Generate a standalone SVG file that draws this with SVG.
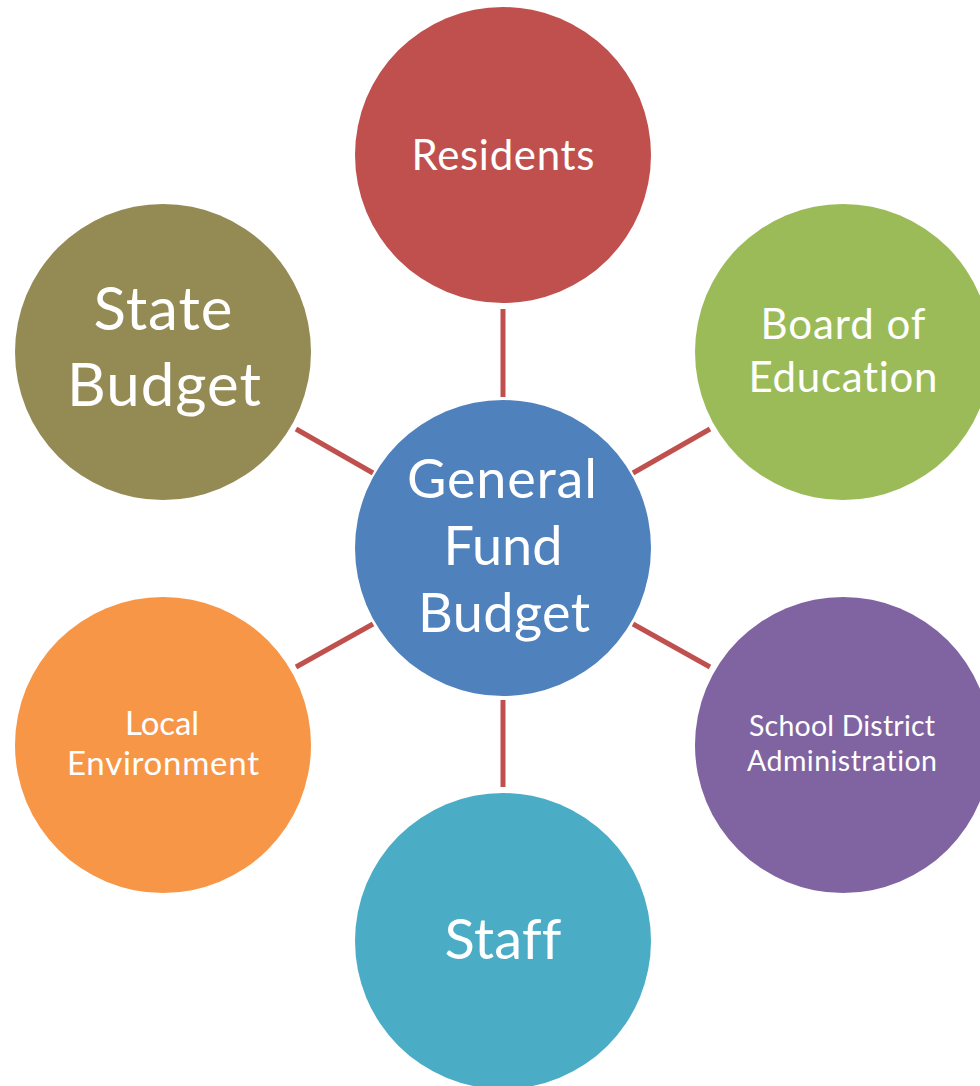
<svg xmlns="http://www.w3.org/2000/svg" width="980" height="1086" viewBox="0 0 980 1086">
  <style>
    .lbl { font-family: Lato, "Open Sans", "Liberation Sans", sans-serif; fill: #FFFFFF; text-anchor: middle; font-variant-ligatures: none; font-feature-settings: "liga" 0, "clig" 0, "dlig" 0; }
    .conn { stroke: #C0504D; stroke-width: 5; fill: none; }
  </style>
  <rect x="0" y="0" width="980" height="1086" fill="#FFFFFF"/>
  <g id="connectors">
    <line class="conn" x1="503" y1="309" x2="503" y2="397"/>
    <line class="conn" x1="503" y1="700" x2="503" y2="787"/>
    <line class="conn" x1="296" y1="429" x2="373" y2="473"/>
    <line class="conn" x1="710" y1="429" x2="633" y2="473"/>
    <line class="conn" x1="296" y1="667" x2="373" y2="624"/>
    <line class="conn" x1="710" y1="667" x2="633" y2="624"/>
  </g>
  <g id="residents">
    <circle cx="503" cy="155" r="148" fill="#C0504D"/>
    <text class="lbl" x="503" y="170" font-size="42" textLength="183" lengthAdjust="spacing">Residents</text>
  </g>
  <g id="state-budget">
    <circle cx="163" cy="352" r="148" fill="#948A54"/>
    <text class="lbl" x="163" y="330" font-size="60" textLength="139" lengthAdjust="spacing">State</text>
    <text class="lbl" x="164" y="406" font-size="60" textLength="194" lengthAdjust="spacing">Budget</text>
  </g>
  <g id="board-of-education">
    <circle cx="843" cy="352" r="148" fill="#9BBB59"/>
    <text class="lbl" x="843" y="339" font-size="42" textLength="165" lengthAdjust="spacing">Board of</text>
    <text class="lbl" x="843" y="392" font-size="42" textLength="189" lengthAdjust="spacing">Education</text>
  </g>
  <g id="general-fund-budget">
    <circle cx="503" cy="548" r="148" fill="#4F81BD"/>
    <text class="lbl" x="502" y="498" font-size="54" textLength="190" lengthAdjust="spacing">General</text>
    <text class="lbl" x="503" y="565" font-size="54" textLength="119" lengthAdjust="spacing">Fund</text>
    <text class="lbl" x="504" y="632" font-size="54" textLength="172" lengthAdjust="spacing">Budget</text>
  </g>
  <g id="local-environment">
    <circle cx="163" cy="745" r="148" fill="#F79646"/>
    <text class="lbl" x="162" y="735" font-size="33" textLength="74" lengthAdjust="spacing">Local</text>
    <text class="lbl" x="163" y="775" font-size="33" textLength="192" lengthAdjust="spacing">Environment</text>
  </g>
  <g id="school-district-administration">
    <circle cx="843" cy="745" r="148" fill="#8064A2"/>
    <text class="lbl" x="842" y="736" font-size="28.5" textLength="186" lengthAdjust="spacing">School District</text>
    <text class="lbl" x="842" y="771" font-size="28.5" textLength="190" lengthAdjust="spacing">Administration</text>
  </g>
  <g id="staff">
    <circle cx="503" cy="941" r="148" fill="#4BACC6"/>
    <text class="lbl" x="503" y="959" font-size="56" textLength="117" lengthAdjust="spacing">Staff</text>
  </g>
</svg>
